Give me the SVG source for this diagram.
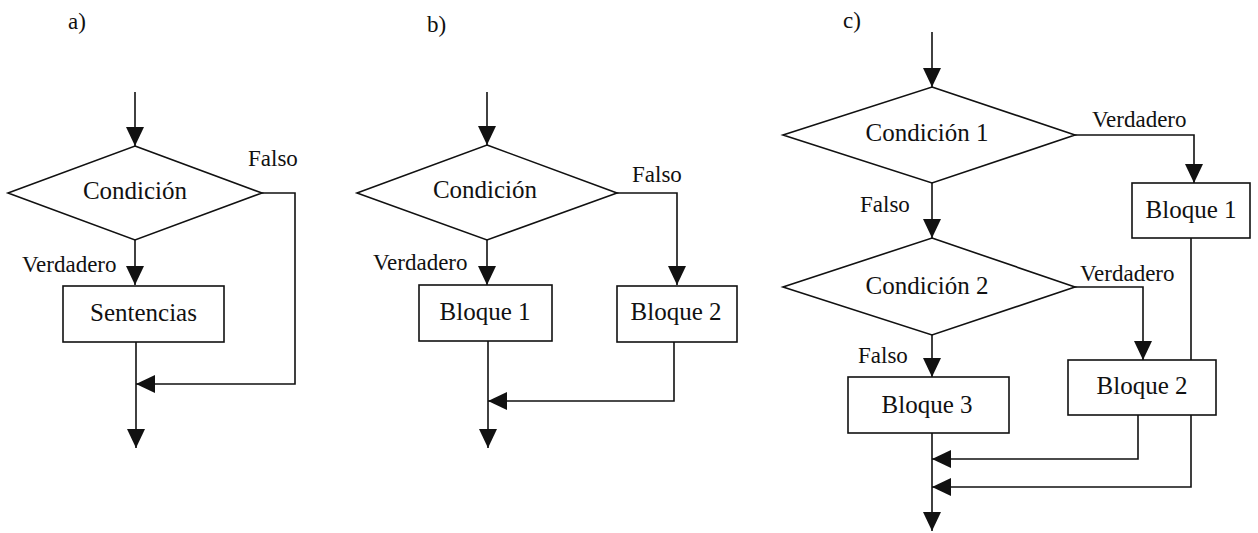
<svg xmlns="http://www.w3.org/2000/svg" width="1258" height="533" viewBox="0 0 1258 533">
<style>
.ln{fill:none;stroke:#111;stroke-width:1.6;marker-end:url(#ah)}
.nd{fill:#fff;stroke:#111;stroke-width:1.6}
.t{font-family:'Liberation Serif','Times New Roman',Times,'DejaVu Serif',serif;font-size:25px;fill:#111;text-anchor:middle}
.lb{font-family:'Liberation Serif','Times New Roman',Times,'DejaVu Serif',serif;font-size:23px;fill:#111}
</style>
<defs>
<marker id="ah" markerUnits="userSpaceOnUse" markerWidth="20" markerHeight="20" refX="19" refY="9" orient="auto">
<path d="M0,0 L19,9 L0,18 z" fill="#111"/>
</marker>
</defs>
<rect width="1258" height="533" fill="#fff"/>
<g id="connectors">
<path class="ln" d="M135,92 V146"/>
<path class="ln" d="M135,240 V285"/>
<path class="ln" d="M262,193 H295 V384 H136"/>
<path class="ln" d="M136,342 V448"/>
<path class="ln" d="M487,92 V145"/>
<path class="ln" d="M487,240 V285"/>
<path class="ln" d="M617,193 H677 V285"/>
<path class="ln" d="M674,342 V401 H488"/>
<path class="ln" d="M488,341 V448"/>
<path class="ln" d="M932,32 V87"/>
<path class="ln" d="M1075,135 H1194 V183"/>
<path class="ln" d="M932,183 V238"/>
<path class="ln" d="M1075,287 H1143 V360"/>
<path class="ln" d="M932,335 V377"/>
<path class="ln" d="M1191,238 V487 H932"/>
<path class="ln" d="M1138,415 V459 H932"/>
<path class="ln" d="M932,433 V531"/>
</g>
<g id="labels">
<text class="lb" x="68" y="29">a)</text>
<text class="lb" x="427" y="32">b)</text>
<text class="lb" x="843" y="28">c)</text>
<text class="lb" x="248" y="166">Falso</text>
<text class="lb" x="22" y="272">Verdadero</text>
<text class="lb" x="632" y="182">Falso</text>
<text class="lb" x="373" y="270">Verdadero</text>
<text class="lb" x="1092" y="127">Verdadero</text>
<text class="lb" x="860" y="212">Falso</text>
<text class="lb" x="1080" y="281">Verdadero</text>
<text class="lb" x="858" y="363">Falso</text>
</g>
<g id="a-cond">
<polygon class="nd" points="135,146 262,193 135,240 8,193"/>
<text class="t" x="135" y="199">Condición</text>
</g>
<g id="a-sent">
<rect class="nd" x="63" y="286" width="161" height="56"/>
<text class="t" x="143.5" y="321">Sentencias</text>
</g>
<g id="b-cond">
<polygon class="nd" points="487,145 617,193 487,240 357,193"/>
<text class="t" x="485" y="198">Condición</text>
</g>
<g id="b-bloque1">
<rect class="nd" x="419" y="285" width="133" height="56"/>
<text class="t" x="485" y="320">Bloque 1</text>
</g>
<g id="b-bloque2">
<rect class="nd" x="617" y="286" width="120" height="56"/>
<text class="t" x="676" y="320">Bloque 2</text>
</g>
<g id="c-cond1">
<polygon class="nd" points="932,87 1075,135 932,183 783,135"/>
<text class="t" x="927" y="141">Condición 1</text>
</g>
<g id="c-bloque1">
<rect class="nd" x="1132" y="183" width="118" height="55"/>
<text class="t" x="1191" y="218">Bloque 1</text>
</g>
<g id="c-cond2">
<polygon class="nd" points="932,238 1075,287 932,335 783,287"/>
<text class="t" x="927" y="294">Condición 2</text>
</g>
<g id="c-bloque2">
<rect class="nd" x="1068" y="360" width="148" height="55"/>
<text class="t" x="1142" y="394">Bloque 2</text>
</g>
<g id="c-bloque3">
<rect class="nd" x="848" y="377" width="161" height="56"/>
<text class="t" x="927" y="413">Bloque 3</text>
</g>
</svg>
